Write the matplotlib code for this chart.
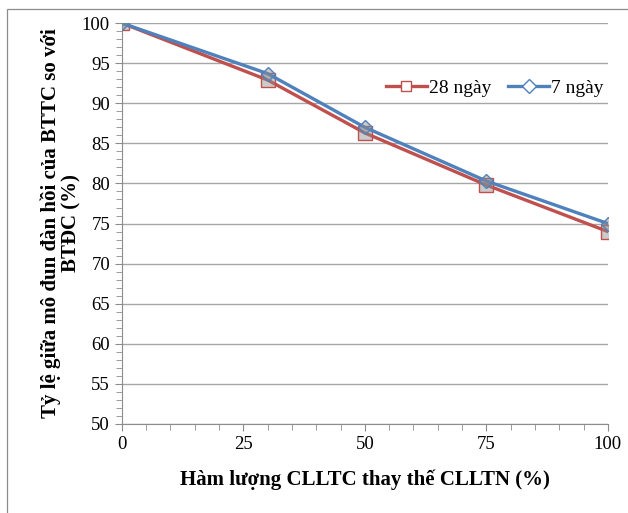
import matplotlib.pyplot as plt
from matplotlib.ticker import MultipleLocator
from matplotlib.patches import Rectangle

# Data
x_vals = [0, 30, 50, 75, 100]
y_28 = [100, 92.9, 86.3, 79.8, 74.0]
y_7 = [100, 93.7, 87.0, 80.3, 75.0]
labels = ['28 ngày', '7 ngày']
x_ticks = [0, 25, 50, 75, 100]

plt.rcParams['font.family'] = ['Liberation Serif', 'DejaVu Serif']

fig = plt.figure(figsize=(6.28, 5.13), dpi=100)
ax = fig.add_axes([0.194, 0.1735, 0.774, 0.7815])

# outer chart border (only left/top visible in the reference)
fig.add_artist(Rectangle((7 / 628, -0.05), 1.0, 1 - 9 / 513 + 0.05,
                         transform=fig.transFigure, fill=False,
                         edgecolor='#8c8c8c', linewidth=0.9))

red = '#C0504D'
blue = '#4F81BD'
face = (0.55, 0.55, 0.55, 0.45)

ax.plot(x_vals, y_28, color=red, linewidth=2.4, marker='s', markersize=9.5,
        markerfacecolor=face, markeredgecolor=red, markeredgewidth=1.0,
        label=labels[0], zorder=3)
ax.plot(x_vals, y_7, color=blue, linewidth=2.4, marker='D', markersize=7.5,
        markerfacecolor=face, markeredgecolor=blue, markeredgewidth=1.0,
        label=labels[1], zorder=4)

ax.set_xlim(0, 100)
ax.set_ylim(50, 100)
ax.set_xticks(x_ticks)
ax.xaxis.set_minor_locator(MultipleLocator(5))
ax.yaxis.set_major_locator(MultipleLocator(5))
ax.yaxis.set_minor_locator(MultipleLocator(1))

ax.grid(axis='y', which='major', color='#a6a6a6', linewidth=1.0)
ax.set_axisbelow(True)
for s in ['top', 'right']:
    ax.spines[s].set_visible(False)
for s in ['left', 'bottom']:
    ax.spines[s].set_color('#8c8c8c')
ax.tick_params(which='both', direction='out', color='#8c8c8c', labelsize=13.5)
ax.tick_params(which='major', length=5)
ax.tick_params(which='minor', length=4)

ax.set_xlabel('Hàm lượng CLLTC thay thế CLLTN (%)', fontsize=15,
              fontweight='bold', labelpad=12)
ax.set_ylabel('Tỷ lệ giữa mô đun đàn hồi của BTTC so với\nBTĐC (%)',
              fontsize=15, fontweight='bold', labelpad=0, linespacing=1.05)

leg = ax.legend(loc='center left', bbox_to_anchor=(0.543, 0.838), ncol=2,
                frameon=False, fontsize=14, handlelength=2.1,
                columnspacing=0.9, handletextpad=0.1,
                borderpad=0, borderaxespad=0)
for h in leg.legend_handles:
    h.set_markerfacecolor('white')
    h.set_markersize(7)

fig.savefig('out.png', dpi=100)
